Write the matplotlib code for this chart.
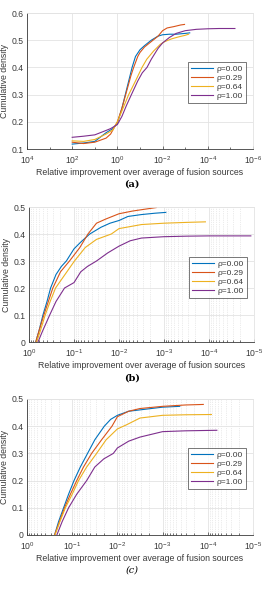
import matplotlib
matplotlib.use("Agg")
import matplotlib.pyplot as plt
import numpy as np
from matplotlib.ticker import FixedLocator, LogLocator, NullFormatter

plt.rcParams['font.family'] = ['Liberation Sans', 'DejaVu Sans']

labels = ["\u03c1=0.00", "\u03c1=0.29", "\u03c1=0.64", "\u03c1=1.00"]
colors = ["#0072BD", "#D95319", "#EDB120", "#7E2F8E"]

# panel (a): x given as log10 of relative improvement
a_x = [
    [2, 1.5, 1, 0.5, 0.2, 0, -0.2, -0.35, -0.5, -0.65, -0.8, -1.0, -1.2, -1.5, -1.8, -2.0, -2.3, -2.6, -3.0, -3.2],
    [2, 1.5, 1, 0.5, 0.3, 0, -0.2, -0.4, -0.6, -0.72, -0.9, -1.0, -1.2, -1.5, -1.8, -2.0, -2.2, -2.5, -2.8, -2.97],
    [2, 1.5, 1, 0.5, 0.2, 0, -0.2, -0.5, -0.8, -1.09, -1.3, -1.6, -1.9, -2.1, -2.4, -2.7, -3.0, -3.15],
    [2, 1.5, 1, 0.6, 0.3, 0, -0.2, -0.4, -0.62, -0.9, -1.1, -1.31, -1.5, -1.8, -2.0, -2.3, -2.6, -3.0, -3.5, -4.0, -4.5, -5.2],
]
a_y = [
    [0.118, 0.122, 0.128, 0.16, 0.175, 0.195, 0.25, 0.30, 0.35, 0.40, 0.44, 0.465, 0.48, 0.50, 0.515, 0.52, 0.522, 0.522, 0.525, 0.527],
    [0.125, 0.12, 0.125, 0.14, 0.155, 0.2, 0.25, 0.31, 0.37, 0.40, 0.44, 0.455, 0.475, 0.495, 0.515, 0.535, 0.545, 0.55, 0.556, 0.558],
    [0.13, 0.128, 0.135, 0.155, 0.17, 0.2, 0.24, 0.30, 0.35, 0.40, 0.43, 0.46, 0.485, 0.495, 0.505, 0.512, 0.518, 0.522],
    [0.143, 0.147, 0.152, 0.165, 0.175, 0.19, 0.22, 0.26, 0.30, 0.35, 0.38, 0.40, 0.43, 0.47, 0.49, 0.51, 0.525, 0.535, 0.54, 0.542, 0.543, 0.543],
]

# panel (b)
b_x = [
    [-0.15, -0.22, -0.31, -0.4, -0.48, -0.6, -0.72, -0.83, -1.0, -1.15, -1.35, -1.6, -1.8, -2.0, -2.2, -2.5, -2.8, -3.04],
    [-0.15, -0.22, -0.33, -0.43, -0.53, -0.7, -0.9, -1.13, -1.31, -1.5, -1.7, -2.0, -2.3, -2.5, -2.83],
    [-0.17, -0.25, -0.36, -0.47, -0.59, -0.8, -1.01, -1.25, -1.5, -1.83, -2.0, -2.5, -3.0, -3.5, -3.92],
    [-0.2, -0.3, -0.46, -0.6, -0.79, -1.0, -1.15, -1.3, -1.5, -1.75, -2.0, -2.25, -2.5, -3.0, -3.5, -4.0, -4.93],
]
b_y = [
    [0, 0.04, 0.1, 0.15, 0.2, 0.25, 0.28, 0.3, 0.345, 0.37, 0.4, 0.425, 0.44, 0.45, 0.465, 0.472, 0.477, 0.48],
    [0, 0.04, 0.1, 0.15, 0.2, 0.26, 0.3, 0.35, 0.4, 0.44, 0.455, 0.475, 0.485, 0.49, 0.498],
    [0, 0.04, 0.1, 0.15, 0.2, 0.25, 0.3, 0.35, 0.38, 0.4, 0.42, 0.435, 0.44, 0.443, 0.445],
    [0, 0.04, 0.1, 0.15, 0.2, 0.22, 0.26, 0.28, 0.3, 0.33, 0.355, 0.375, 0.385, 0.39, 0.392, 0.393, 0.393],
]

# panel (c)
c_x = [
    [-0.61, -0.7, -0.81, -0.92, -1.04, -1.18, -1.34, -1.5, -1.71, -1.85, -2.0, -2.25, -2.5, -3.0, -3.38],
    [-0.61, -0.72, -0.83, -0.96, -1.1, -1.25, -1.43, -1.65, -1.88, -2.0, -2.25, -2.5, -3.0, -3.5, -3.9],
    [-0.62, -0.73, -0.85, -1.0, -1.14, -1.32, -1.54, -1.75, -2.0, -2.2, -2.5, -3.0, -3.5, -4.08],
    [-0.66, -0.78, -0.92, -1.1, -1.32, -1.5, -1.7, -1.91, -2.0, -2.25, -2.5, -3.0, -3.5, -4.2],
]
c_y = [
    [0, 0.05, 0.1, 0.15, 0.2, 0.25, 0.3, 0.35, 0.4, 0.425, 0.44, 0.455, 0.46, 0.47, 0.473],
    [0, 0.05, 0.1, 0.15, 0.2, 0.25, 0.3, 0.35, 0.4, 0.435, 0.455, 0.465, 0.473, 0.478, 0.48],
    [0, 0.05, 0.1, 0.15, 0.2, 0.25, 0.3, 0.35, 0.39, 0.405, 0.43, 0.44, 0.442, 0.443],
    [0, 0.05, 0.1, 0.15, 0.2, 0.25, 0.28, 0.3, 0.32, 0.345, 0.36, 0.38, 0.383, 0.385],
]

W, H = 264, 589
fig = plt.figure(figsize=(W / 100, H / 100), dpi=100)


def px_rect(left, top, right, bottom):
    return [left / W, 1 - bottom / H, (right - left) / W, (bottom - top) / H]


def panel(rect, xs, ys, xlim, ylim, yticks, major, minor_grid, legend_rect, caption, cap_y, cap_style):
    ax = fig.add_axes(px_rect(*rect))
    for x, y, c, lab in zip(xs, ys, colors, labels):
        ax.plot(10.0 ** np.array(x), y, color=c, lw=0.8, label=lab)
    ax.set_xscale("log")
    ax.set_xlim(*xlim)
    ax.set_ylim(*ylim)
    ax.set_yticks(yticks)
    ax.set_yticklabels([f"{t:g}" for t in yticks])
    ax.xaxis.set_major_locator(FixedLocator(major))
    if minor_grid:
        ax.xaxis.set_minor_locator(LogLocator(base=10, subs=np.arange(2, 10), numticks=50))
        ax.grid(True, which="minor", axis="x", color="#d8d8d8", lw=0.5, ls=":")
    else:
        odd = [m / 10 for m in major]
        ax.xaxis.set_minor_locator(FixedLocator(odd))
    ax.xaxis.set_minor_formatter(NullFormatter())
    ax.grid(True, which="major", color="#e3e3e3", lw=0.6)
    ax.set_axisbelow(True)
    ax.tick_params(which="both", direction="in", labelsize=6.2, colors="#3a3a3a", width=0.5)
    ax.tick_params(axis="x", which="major", length=2.5, pad=3.5)
    ax.tick_params(axis="x", which="minor", length=1.5)
    ax.tick_params(axis="y", length=0, pad=2.5)
    for s in ["left", "bottom"]:
        ax.spines[s].set_color("#3a3a3a")
        ax.spines[s].set_linewidth(0.6)
    for s in ["top", "right"]:
        ax.spines[s].set_color("#e3e3e3")
        ax.spines[s].set_linewidth(0.6)
    ax.set_xlabel("Relative improvement over average of fusion sources", fontsize=6.3,
                  color="#3a3a3a", labelpad=1.5)
    ax.set_ylabel("Cumulative density", fontsize=6.3, color="#3a3a3a", labelpad=2)
    lx0, ly0, lx1, ly1 = legend_rect
    leg = ax.legend(loc="upper left", fontsize=6, frameon=True, fancybox=False,
                    bbox_to_anchor=(lx0 / W, 1 - ly0 / H), bbox_transform=fig.transFigure,
                    handlelength=2.6, handletextpad=0.5, borderpad=0.35, labelspacing=0.15,
                    borderaxespad=0)
    leg.get_frame().set_edgecolor("#3a3a3a")
    leg.get_frame().set_linewidth(0.6)
    for t in leg.get_texts():
        t.set_color("#3a3a3a")
    fig.text(0.5, 1 - cap_y / H, caption, ha="center", va="center", fontsize=7,
             family="DejaVu Serif", **cap_style)
    return ax


panel((27, 13, 253, 149), a_x, a_y, (1e4, 1e-6), (0.1, 0.6),
      [0.1, 0.2, 0.3, 0.4, 0.5, 0.6], [1e4, 1e2, 1e0, 1e-2, 1e-4, 1e-6], False,
      (188, 62, 241, 100), "(a)", 184, {"weight": "bold"})
panel((29, 207, 254, 342), b_x, b_y, (1e0, 1e-5), (0, 0.5),
      [0, 0.1, 0.2, 0.3, 0.4, 0.5], [1e0, 1e-1, 1e-2, 1e-3, 1e-4, 1e-5], True,
      (189, 257, 247, 294), "(b)", 378, {"weight": "bold"})
panel((27, 399, 253, 535), c_x, c_y, (1e0, 1e-5), (0, 0.5),
      [0, 0.1, 0.2, 0.3, 0.4, 0.5], [1e0, 1e-1, 1e-2, 1e-3, 1e-4, 1e-5], True,
      (188, 448, 245, 487), "(c)", 570, {"style": "italic"})

fig.savefig("out.png", dpi=100, facecolor="white")
